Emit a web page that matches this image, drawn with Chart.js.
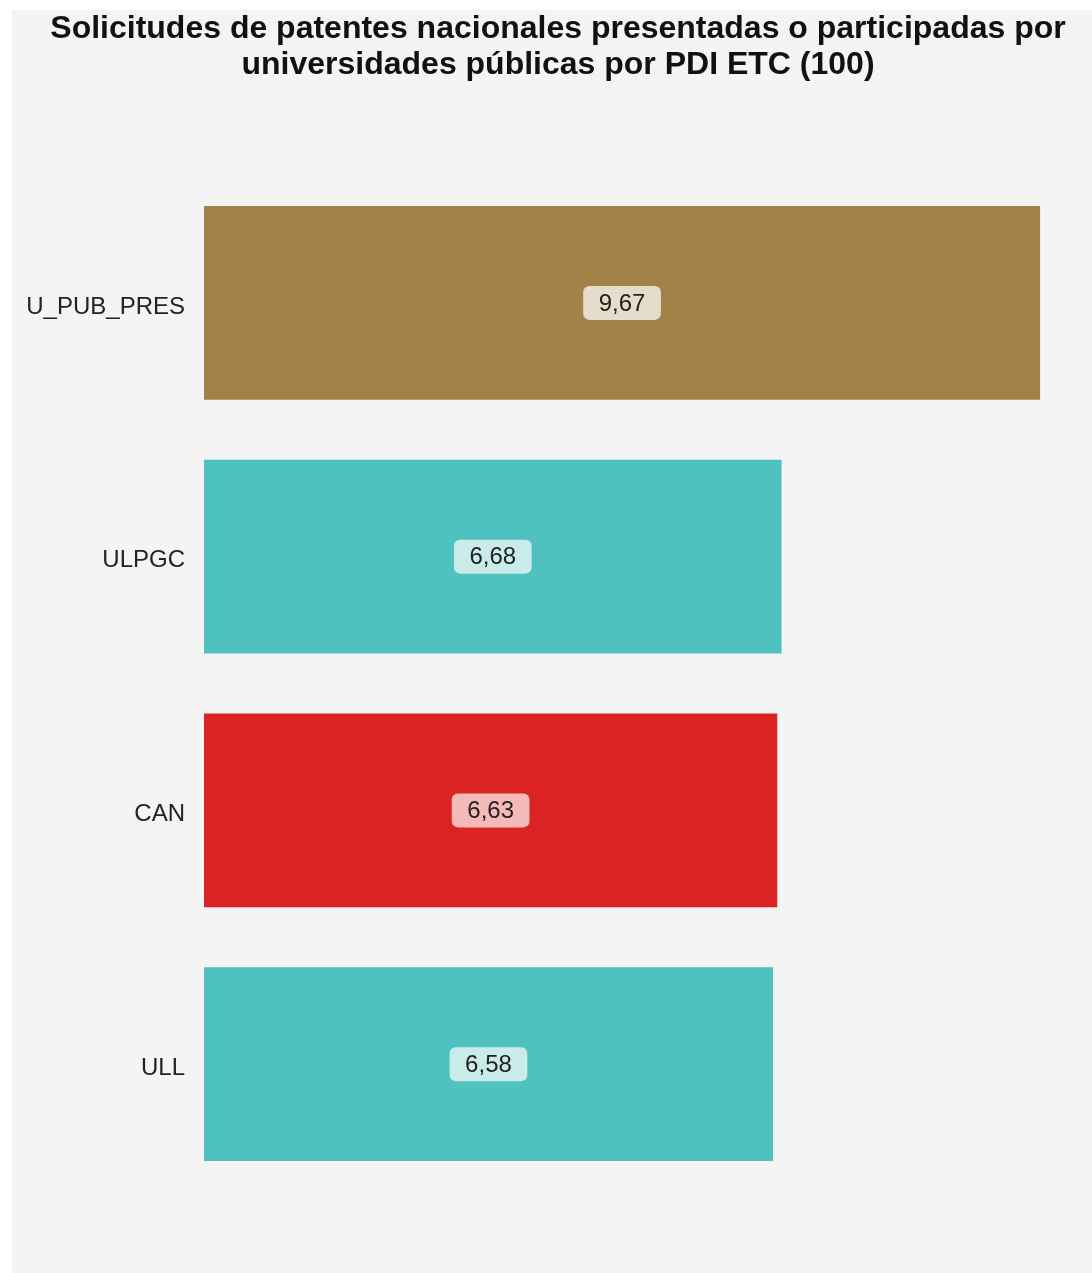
<!DOCTYPE html>
<html>
<head>
<meta charset="utf-8">
<script src="https://cdn.jsdelivr.net/npm/chart.js@4.4.1/dist/chart.umd.min.js"></script>
<style>
  html, body { margin: 0; padding: 0; background: #ffffff; }
  #wrap { position: relative; width: 1092px; height: 1273px; }
</style>
</head>
<body>
<div id="wrap"><canvas id="grafico"></canvas></div>
<script>
// datos del gráfico
var categorias = ['U_PUB_PRES', 'ULPGC', 'CAN', 'ULL'];
var valores = [9.67, 6.68, 6.63, 6.58];
var coloresBarra = ['#a3824a', '#4fc1be', '#dc2323', '#4fc1be'];
var coloresEtiqueta = ['#e6dccb', '#c9ecea', '#f5b9b9', '#c9ecea'];
var titulo = ['Solicitudes de patentes nacionales presentadas o participadas por', 'universidades públicas por PDI ETC (100)'];

var fuente = 'Arial, "Liberation Sans", Helvetica, sans-serif';

// fondo gris
var fondo = {
    id: 'fondo',
    beforeDraw: function(chart) {
        var ctx = chart.ctx;
        ctx.save();
        ctx.fillStyle = '#f4f4f4';
        ctx.fillRect(12, 10, chart.width - 12, chart.height - 10);
        ctx.restore();
    }
};

// etiquetas con caja redondeada en el centro de cada barra
var etiquetas = {
    id: 'etiquetas',
    afterDatasetsDraw: function(chart) {
        var ctx = chart.ctx;
        var meta = chart.getDatasetMeta(0);
        ctx.save();
        ctx.font = '24px ' + fuente;
        ctx.textAlign = 'center';
        ctx.textBaseline = 'middle';
        meta.data.forEach(function(barra, i) {
            var texto = valores[i].toFixed(2).replace('.', ',');
            var cx = (barra.x + barra.base) / 2;
            var cy = barra.y;
            var w = ctx.measureText(texto).width + 31;
            var h = 34;
            ctx.fillStyle = coloresEtiqueta[i];
            ctx.beginPath();
            ctx.roundRect(cx - w / 2, cy - h / 2, w, h, 6);
            ctx.fill();
            ctx.fillStyle = '#222222';
            ctx.fillText(texto, cx, cy + 1);
        });
        ctx.restore();
    }
};

var canvas = document.getElementById('grafico');
var myChart = new Chart(canvas.getContext('2d'), {
    type: 'bar',
    data: {
        labels: categorias,
        datasets: [{
            data: valores,
            backgroundColor: coloresBarra,
            borderWidth: 0,
            categoryPercentage: 0.764,
            barPercentage: 1
        }]
    },
    options: {
        indexAxis: 'y',
        responsive: true,
        maintainAspectRatio: false,
        animation: false,
        layout: {
            padding: { left: 24, right: 0, top: 0, bottom: 82 }
        },
        plugins: {
            legend: { display: false },
            tooltip: { enabled: false },
            title: {
                display: true,
                text: titulo,
                color: '#111111',
                font: { family: fuente, size: 32, weight: 'bold', lineHeight: 1.125 },
                padding: { top: 11, bottom: 93 }
            }
        },
        scales: {
            x: {
                display: false,
                min: 0,
                max: 10.27
            },
            y: {
                grid: { display: false, drawTicks: false },
                border: { display: false },
                ticks: {
                    color: '#222222',
                    font: { family: fuente, size: 24 },
                    padding: 19,
                    labelOffset: 4
                },
                afterFit: function(scale) { scale.width = 180; }
            }
        }
    },
    plugins: [fondo, etiquetas]
});
</script>
</body>
</html>
